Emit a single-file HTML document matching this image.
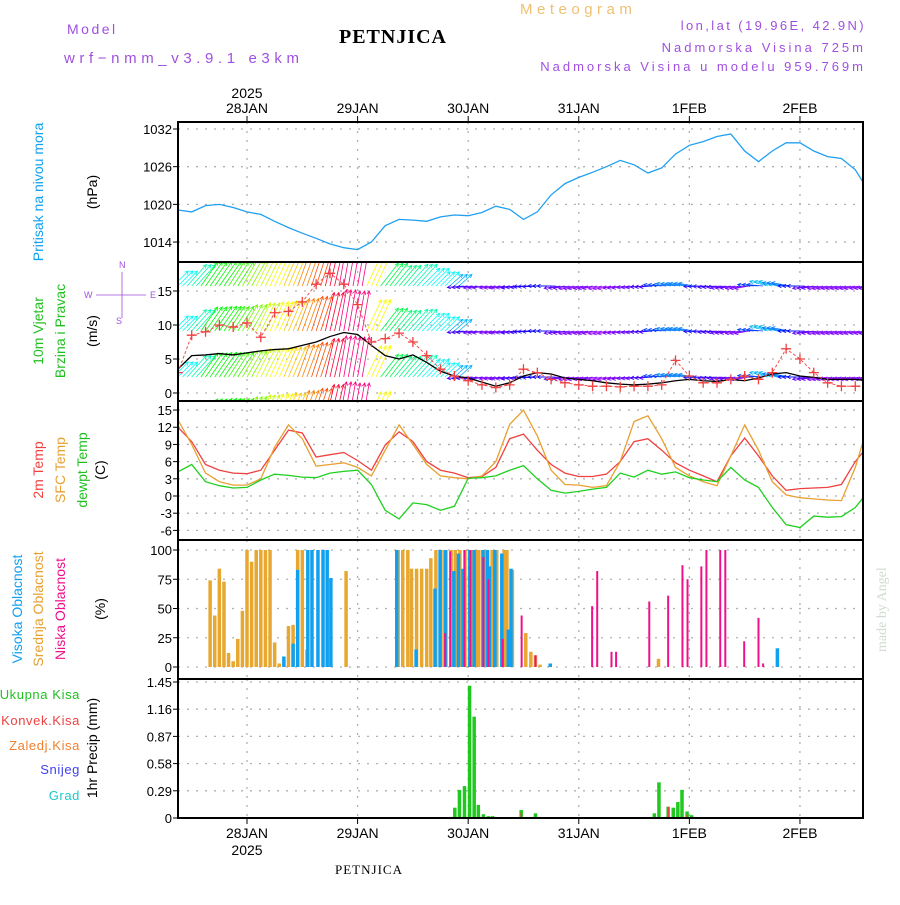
<!DOCTYPE html>
<html><head><meta charset="utf-8"><style>
body{margin:0;background:#fff}
svg text{font-family:"Liberation Sans",sans-serif}
</style></head><body>
<svg id="c" width="900" height="900" viewBox="0 0 900 900">
<defs><clipPath id="cw"><rect x="178" y="262" width="685" height="139"/></clipPath>
<clipPath id="ca"><rect x="178" y="122" width="685" height="696"/></clipPath></defs>
<text x="67" y="34" font-size="14" fill="#a050e0" letter-spacing="2.5">Model</text>
<text x="64" y="63" font-size="15" fill="#a050e0" letter-spacing="4.6">wrf−nmm_v3.9.1 e3km</text>
<text x="520" y="14" font-size="15" fill="#f0c070" letter-spacing="4.5">Meteogram</text>
<text x="393" y="43" font-size="20" font-weight="bold" text-anchor="middle" style="font-family:'Liberation Serif',serif" letter-spacing="1">PETNJICA</text>
<g font-size="13" fill="#a050e0" text-anchor="end">
<text x="866" y="30" letter-spacing="2.4">lon,lat (19.96E, 42.9N)</text>
<text x="866" y="52" letter-spacing="3">Nadmorska Visina 725m</text>
<text x="866" y="71" letter-spacing="3">Nadmorska Visina u modelu 959.769m</text></g>
<g id="grid"></g><g id="marks"></g><g id="frames"></g><g id="labels"></g>
<text transform="translate(886,652) rotate(-90)" font-size="14" fill="#d0dcd0" style="font-family:'Liberation Serif',serif">made by Angel</text>
<text x="369" y="874" font-size="13" text-anchor="middle" style="font-family:'Liberation Serif',serif" letter-spacing="1">PETNJICA</text>
</svg>
<script>
const hours0=-15, step=3;
const pressure=[1019.1,1018.8,1019.8,1020.0,1019.5,1018.8,1018.4,1017.3,1016.3,1015.4,1014.6,1013.7,1013.1,1012.8,1014.0,1016.6,1017.6,1017.5,1017.3,1018.0,1018.3,1018.2,1018.7,1019.7,1019.2,1017.6,1018.8,1021.5,1023.3,1024.3,1025.1,1026.0,1027.0,1026.3,1025.0,1025.8,1028.0,1029.4,1030.0,1030.8,1031.2,1028.5,1026.8,1028.5,1029.8,1029.8,1028.5,1027.6,1027.3,1025.5,1022.0];
const windSpeed=[3.5,5.5,5.6,5.8,5.6,5.9,6.2,6.4,6.5,7,7.5,8.3,8.9,8.6,7,5.5,5,5.6,4.5,3.2,2.5,2.2,1.6,1.0,1.5,2.5,3,2.8,2.2,2,1.8,1.5,1.3,1.2,1.3,1.5,1.8,2,1.8,1.7,2,1.8,2.2,2.8,3,2.5,2.3,2,2,2,1.8];
const windGust=[3,8.5,9,10,9.7,10.3,8.2,11.8,12,13.4,16,17.6,16,13,7.5,8,8.8,7.5,5.5,3.5,2.5,1.8,1.2,0.8,1.2,3.5,3,2,1.5,1.2,1,1,0.9,1,1,1.2,4.8,2.5,1.5,1.5,2,2.5,2,3,6.5,5,3,1.5,1,1,0.8];
const windDir=[225,222,215,215,213,210,207,205,203,200,198,193,190,190,205,218,220,222,225,225,228,85,82,80,82,85,88,90,82,80,80,78,80,82,85,95,100,100,88,85,82,80,95,105,100,90,82,80,80,80,80];
const temp2m=[12,9.5,5.5,4.5,4,3.9,4.5,8,11.5,11,6.8,7.2,7.6,6.2,4.5,8.9,11.2,9.5,6,4.5,4,3.2,3.4,5,10,10.8,8,5.5,4,3.4,3.4,3.8,6,9.5,10,8,5.8,4.5,3.5,2.5,7,10.1,7,3.5,1,1.3,1.4,1.5,2,6,9];
const tempSfc=[13.3,9,4,2.5,1.9,1.9,3,8.5,12.4,10,5.2,5.5,5.8,5,3.5,8,12.4,9,5.5,3.5,3.2,3,3.5,6,12.5,15,10.5,4.5,2,1.9,1.5,1.8,6,13,14,10,5,3.5,2.5,1.8,7,12.4,8,2.5,0.2,-0.3,-0.5,-0.7,-0.8,5,13];
const tempDew=[4.2,5.5,2.5,1.8,1.4,1.5,2.8,3.8,3.6,3.3,3.2,4,4.3,4.5,2,-2.5,-4,-1.2,-1.5,-2.5,-1.8,3.1,3.2,3.5,4.5,5.3,3,1,0.5,0.8,1.2,1.5,4,3.3,4.5,3.8,4.2,3.2,2.8,2.5,5,2.8,1.5,-2,-5,-5.5,-3.5,-3.7,-3.6,-2,1];
const midHours=[-8,-7,-6,-5,-4,-3,-2,-1,0,1,2,3,4,5,6,7,9,10,11,12,13,21.5,32.8,33.8,34.9,35.7,36.8,37.9,39,39.9,41,42.1,43.2,44.3,45.2,46.2,47.3,48.8,49.8,50.3,51.6,53.2,54.2,55.8,56.4,57.6,60.5,61.6,62.6,63.6,89.3];
const midCloud=[74,44,84,73,12,5,24,48,100,90,100,100,100,100,21,3,35,36,100,100,15,82,100,100,100,84,84,84,84,93,100,100,100,100,100,100,100,100,100,100,100,100,100,100,100,83,29,13,10,2,7];
const highHours=[8,10,11,13.2,14.1,15.4,16.5,17.4,18.2,32.5,36.7,40.8,41.9,43,44.9,45.9,46.9,48.3,49.3,51.2,52.2,52.6,53.8,55.3,56.7,57.3,65.8,115.1];
const highCloud=[9,20,83,100,100,100,100,100,76,100,15,67,100,100,82,97,84,100,100,100,100,86,100,97,32,84,3,16];
const lowHours=[43,44.1,47.2,48.5,51.3,52.4,55.5,59.6,62.6,74.9,76,79.1,80.1,87.3,91.4,94.5,95.6,98.6,99.7,102.7,103.8,107.9,111,112];
const lowCloud=[29,99,100,100,94,75,24,44,10,52,82,13,13,56,61,87,75,86,100,100,100,22,42,3];
const precipHours=[45.1,46.1,47.2,48.3,49.3,50.2,51.3,52.4,53.3,59.5,62.6,88.4,89.4,91.4,92.5,93.5,94.4,95.5,96.5];
const precipTotal=[0.11,0.3,0.34,1.41,1.08,0.14,0.04,0.02,0.02,0.085,0.05,0.05,0.38,0.12,0.11,0.17,0.3,0.07,0.03];
const convHours=[59.5,91.4,95.5];
const convPrecip=[0.06,0.12,0.03];
const dayLabels=["28JAN","29JAN","30JAN","31JAN","1FEB","2FEB"];
const pTicks=[1014,1020,1026,1032], wTicks=[0,5,10,15], tTicks=[-6,-3,0,3,6,9,12,15], cTicks=[0,25,50,75,100], rTicks=[0,0.29,0.58,0.87,1.16,1.45];

const NS="http://www.w3.org/2000/svg";
const X=h=>247+h*4.608;
const Yp=p=>129+(1032-p)*6.28, Yw=v=>393-v*6.8, Yt=t=>496-t*5.73, Yc=c=>667-c*1.17, Yr=r=>818-r*93.8;
const L=178,R=863;
const panels=[[122,262,Yp,pTicks,"pressure"],[262,401,Yw,wTicks,"wind"],[401,540,Yt,tTicks,"temperature"],[540,679,Yc,cTicks,"cloud"],[679,818,Yr,rTicks,"precip"]];
function mk(tag,at,par){const e=document.createElementNS(NS,tag);for(const k in at)e.setAttribute(k,at[k]);(par||document.getElementById('marks')).appendChild(e);return e;}
const grid=document.getElementById('grid'),frames=document.getElementById('frames'),labels=document.getElementById('labels');
panels.forEach(([t,b,Y,ticks,nm])=>{
  ticks.forEach(v=>{const y=Y(v);
    const g=mk('line',{x1:L,x2:R,y1:y,y2:y,stroke:'#b0b0b0','stroke-width':1.3,'stroke-dasharray':'2 7'},grid);
    
    mk('line',{x1:L-5,x2:L,y1:y,y2:y,stroke:'#000'},frames);
    const tx=mk('text',{x:L-6,y:y+5,'font-size':13,'text-anchor':'end'},labels);tx.textContent=String(v);
    });
  for(let d=0;d<6;d++){const x=X(d*24);
    const g=mk('line',{x1:x,x2:x,y1:t,y2:b,stroke:'#b0b0b0','stroke-width':1.3,'stroke-dasharray':'2 7'},grid);
    }
  const f=mk('rect',{x:L,y:t,width:R-L,height:b-t,fill:'none',stroke:'#000','stroke-width':2},frames);
  
});
dayLabels.forEach((d,i)=>{const x=X(i*24);
  let a=mk('text',{x:x,y:113,'font-size':14,'text-anchor':'middle'},labels);a.textContent=d;
  
  let b=mk('text',{x:x,y:838,'font-size':14,'text-anchor':'middle'},labels);b.textContent=d;
  
  mk('line',{x1:x,x2:x,y1:116,y2:122,stroke:'#000'},frames);mk('line',{x1:x,x2:x,y1:818,y2:824,stroke:'#000'},frames);});
let y1=mk('text',{x:X(0),y:98,'font-size':14,'text-anchor':'middle'},labels);y1.textContent="2025";
let y2=mk('text',{x:X(0),y:855,'font-size':14,'text-anchor':'middle'},labels);y2.textContent="2025";

const clipG=mk('g',{'clip-path':'url(#ca)'});
function line(arr,Y,col,nm,w){let d=arr.map((v,i)=>(i?'L':'M')+X(hours0+i*step).toFixed(1)+','+Y(v).toFixed(1)).join('');
  const p=mk('path',{d:d,fill:'none',stroke:col,'stroke-width':w||1.3},clipG);}
line(pressure,Yp,'#20a0f0','pressure-line');
line(temp2m,Yt,'#f04040','temp-2m-line');
line(tempSfc,Yt,'#e8a030','temp-sfc-line');
line(tempDew,Yt,'#20d020','dewpoint-line');
// wind arrows
const wg=mk('g',{'clip-path':'url(#cw)'});
const rows=[286,331,377,423];
windDir.forEach((dir,i)=>{const x=X(hours0+i*step),s=windSpeed[i];
  const b=(dir+180)*Math.PI/180,len=8+s*3.8;
  const hue=dir>150?((120+(dir-215)*6)%360+360)%360:((270-(dir-80)*3)%360+360)%360;
  const col='hsl('+hue+',95%,50%)';
  rows.forEach(by=>{for(let k=0;k<3;k++){const x0=x-4.6+k*4.6;
    const dx=Math.sin(b)*len,dy=-Math.cos(b)*len,x1=x0+dx,yy=by+dy;
    const a1=b+Math.PI*0.85,a2=b-Math.PI*0.85;
    const p=mk('path',{d:`M${x0},${by}L${x1},${yy}M${x1+Math.sin(a1)*4},${yy-Math.cos(a1)*4}L${x1},${yy}L${x1+Math.sin(a2)*4},${yy-Math.cos(a2)*4}`,stroke:col,'stroke-width':0.8,fill:'none'},wg);
    }});
});
{let d=windSpeed.map((v,i)=>(i?'L':'M')+X(hours0+i*step)+','+Yw(v)).join('');
 const p=mk('path',{d:d,fill:'none',stroke:'#000','stroke-width':1.3},wg);
 let d2=windGust.map((v,i)=>(i?'L':'M')+X(hours0+i*step)+','+Yw(v)).join('');
 const q=mk('path',{d:d2,fill:'none',stroke:'#f05050','stroke-width':1,'stroke-dasharray':'3 2'},wg);
 windGust.forEach((v,i)=>{const x=X(hours0+i*step),y=Yw(v);
  const c=mk('path',{d:`M${x-5},${y}H${x+5}M${x},${y-5}V${y+5}`,stroke:'#f04040','stroke-width':1.3},wg);
  });}
// clouds
function bars(hrs,vals,Y,col,w,off,nm){hrs.forEach((h,i)=>{const y=Y(vals[i]);
  const r=mk('rect',{x:X(h)+off,y:y,width:w,height:Y(0)-y,fill:col},clipG);});}
bars(midHours,midCloud,Yc,'#e8a830',3.5,-1.75,'mid-cloud-bar');
bars(highHours,highCloud,Yc,'#10a0f0',3.5,-1.75,'high-cloud-bar');
bars(lowHours,lowCloud,Yc,'#f0108a',2,-1,'low-cloud-bar');
bars(precipHours,precipTotal,Yr,'#20c820',3.5,-1.75,'total-precip-bar');
bars(convHours,convPrecip,Yr,'#f04040',1.5,-0.75,'conv-precip-bar');
// axis titles
function rt(x,y,txt,col,nm,fs){const t=mk('text',{transform:`translate(${x},${y}) rotate(-90)`,'font-size':fs||14,'text-anchor':'middle',fill:col},labels);t.textContent=txt;}
rt(43,192,'Pritisak na nivou mora','#10a0f0','pressure-title');rt(97,192,'(hPa)','#000','pressure-unit');
rt(43,331,'10m Vjetar','#20c020','wind-title-1');rt(65,331,'Brzina i Pravac','#20c020','wind-title-2');rt(97,331,'(m/s)','#000','wind-unit');
rt(43,470,'2m Temp','#f04040','temp-2m-title');rt(65,470,'SFC Temp','#e8a030','temp-sfc-title');rt(87,470,'dewpt Temp','#20c020','dewpt-title');rt(105,470,'(C)','#000','temp-unit');
rt(22,609,'Visoka Oblacnost','#10a0f0','high-cloud-title');rt(43,609,'Srednja Oblacnost','#e8a030','mid-cloud-title');rt(65,609,'Niska Oblacnost','#f0108a','low-cloud-title');rt(105,609,'(%)','#000','cloud-unit');
rt(97,748,'1hr Precip (mm)','#000','precip-title');
[['Ukupna Kisa','#20c020',699],['Konvek.Kisa','#f04040',725],['Zaledj.Kisa','#f08030',750],['Snijeg','#4040f0',774],['Grad','#20c8c8',800]].forEach(([t,c,y])=>{
 const e=mk('text',{x:80,y:y,'font-size':13,fill:c,'text-anchor':'end','letter-spacing':0.6},labels);e.textContent=t;});
// compass
const cp=mk('g',{fill:'#a050e0','font-size':9},labels);
[['N',119,268],['W',84,298],['E',150,298],['S',116,324]].forEach(([t,x,y])=>{const e=mk('text',{x:x,y:y},cp);e.textContent=t;});
mk('path',{d:'M96,295H146M122,272V318',stroke:'#a050e0','stroke-width':0.8,fill:'none'},cp);
</script>
</body></html>
